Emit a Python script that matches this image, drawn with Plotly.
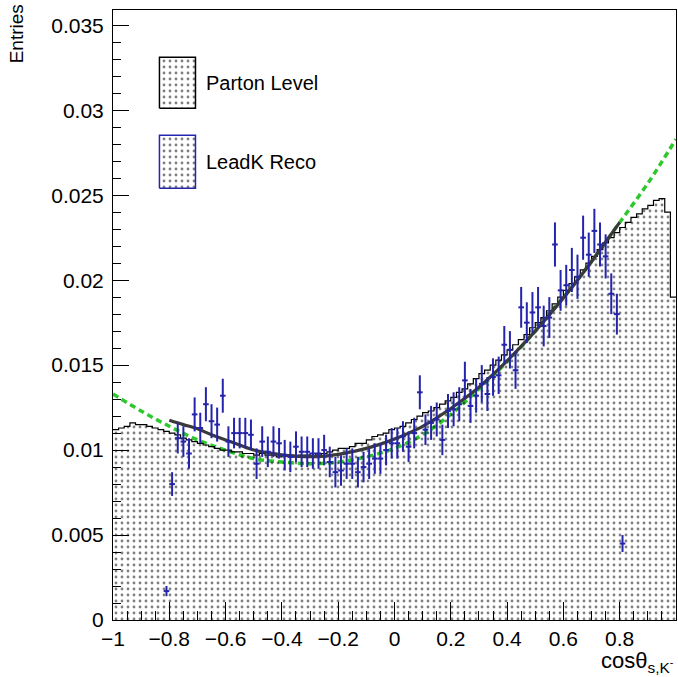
import plotly.graph_objects as go

# ---------------- data ----------------
X_MIN, X_MAX, N_BINS = -1.0, 1.0, 100

parton_vals = [
    0.0112, 0.0113, 0.0114, 0.0116, 0.0115, 0.0115, 0.0114, 0.0113, 0.0112, 0.0111,
    0.0110, 0.0109, 0.0107, 0.0106, 0.0105, 0.0104, 0.0103, 0.0102, 0.0101, 0.0100,
    0.0100, 0.0099, 0.0099, 0.0098, 0.0098, 0.0097, 0.0098, 0.0097, 0.0097, 0.0096,
    0.0097, 0.0097, 0.0096, 0.0097, 0.0097, 0.0098, 0.0097, 0.0098, 0.0099, 0.0100,
    0.0101, 0.0101, 0.0102, 0.0104, 0.0104, 0.0106, 0.0108, 0.0109, 0.0110, 0.0112,
    0.0113, 0.0114, 0.0116, 0.0118, 0.0120, 0.0122, 0.0123, 0.0125, 0.0127, 0.0129,
    0.0131, 0.0134, 0.0136, 0.0139, 0.0142, 0.0145, 0.0147, 0.0150, 0.0153, 0.0156,
    0.0159, 0.0162, 0.0165, 0.0168, 0.0172, 0.0175, 0.0178, 0.0182, 0.0186, 0.0190,
    0.0194, 0.0198, 0.0202, 0.0206, 0.0210, 0.0214, 0.0218, 0.0222, 0.0225, 0.0228,
    0.0231, 0.0234, 0.0237, 0.0239, 0.0242, 0.0244, 0.0247, 0.0248, 0.0240, 0.0190,
]

RECO_FIRST_CENTER = -0.81
reco_vals = [
    0.0017, 0.0080, 0.0107, 0.0105, 0.0098, 0.0121, 0.0113, 0.0127, 0.0117, 0.0115,
    0.0132, 0.0105, 0.0110, 0.0110, 0.0110, 0.0109, 0.0092, 0.0105, 0.0099, 0.0105,
    0.0104, 0.0097, 0.0096, 0.0102, 0.0099, 0.0099, 0.0098, 0.0098, 0.0100, 0.0093,
    0.0087, 0.0088, 0.0092, 0.0092, 0.0087, 0.0090, 0.0092, 0.0095, 0.0095, 0.0100,
    0.0104, 0.0104, 0.0108, 0.0102, 0.0110, 0.0134, 0.0112, 0.0116, 0.0118, 0.0106,
    0.0123, 0.0124, 0.0127, 0.0141, 0.0126, 0.0132, 0.0139, 0.0133, 0.0143, 0.0144,
    0.0162, 0.0159, 0.0147, 0.0184, 0.0175, 0.0181, 0.0184, 0.0173, 0.0178, 0.0221,
    0.0194, 0.0197, 0.0206, 0.0202, 0.0225, 0.0215, 0.0229, 0.0221, 0.0214, 0.0192,
    0.0180, 0.0045,
]
reco_errs = [
    0.0003, 0.0007, 0.0009, 0.0009, 0.0009, 0.0010, 0.0009, 0.0010, 0.0010, 0.0010,
    0.0010, 0.0009, 0.0009, 0.0009, 0.0009, 0.0009, 0.0009, 0.0009, 0.0009, 0.0009,
    0.0009, 0.0009, 0.0009, 0.0009, 0.0009, 0.0009, 0.0009, 0.0009, 0.0009, 0.0009,
    0.0009, 0.0009, 0.0009, 0.0009, 0.0009, 0.0009, 0.0009, 0.0009, 0.0009, 0.0009,
    0.0009, 0.0009, 0.0009, 0.0009, 0.0009, 0.0010, 0.0009, 0.0010, 0.0010, 0.0009,
    0.0010, 0.0010, 0.0010, 0.0011, 0.0010, 0.0010, 0.0011, 0.0010, 0.0011, 0.0011,
    0.0011, 0.0011, 0.0011, 0.0012, 0.0012, 0.0012, 0.0012, 0.0012, 0.0012, 0.0013,
    0.0012, 0.0012, 0.0013, 0.0013, 0.0013, 0.0013, 0.0013, 0.0013, 0.0013, 0.0012,
    0.0012, 0.0005,
]

fit_x = [-0.80, -0.75, -0.70, -0.65, -0.60, -0.55, -0.50, -0.45, -0.40, -0.35, -0.30,
         -0.25, -0.20, -0.15, -0.10, -0.05, 0.00, 0.05, 0.10, 0.15, 0.20, 0.25, 0.30,
         0.35, 0.40, 0.45, 0.50, 0.55, 0.60, 0.65, 0.70, 0.75, 0.80]
fit_y = [0.01176, 0.01150, 0.01125, 0.01090, 0.01060, 0.01030, 0.01000, 0.00985,
         0.00972, 0.00965, 0.00962, 0.00965, 0.00975, 0.00990, 0.01010, 0.01035,
         0.01065, 0.01100, 0.01140, 0.01190, 0.01245, 0.01305, 0.01370, 0.01445,
         0.01525, 0.01610, 0.01700, 0.01795, 0.01895, 0.02000, 0.02110, 0.02225, 0.02340]

theory_x = [-1.0, -0.9, -0.8, -0.7, -0.6, -0.5, -0.4, -0.3, -0.2, -0.1, 0.0,
            0.1, 0.2, 0.3, 0.4, 0.5, 0.6, 0.7, 0.8, 0.9, 1.0]
theory_y = [0.0133, 0.0123, 0.0114, 0.0106, 0.0100, 0.0095, 0.0093, 0.0092, 0.0093,
            0.0096, 0.0101, 0.0109, 0.0121, 0.0136, 0.0152, 0.0170, 0.0190, 0.0211,
            0.0234, 0.0257, 0.0283]

legend_labels = ["Parton Level", "LeadK Reco"]
y_ticks = [0, 0.005, 0.01, 0.015, 0.02, 0.025, 0.03, 0.035]
y_tick_text = ["0", "0.005", "0.01", "0.015", "0.02", "0.025", "0.03", "0.035"]

# ---------------- derived ----------------
bw = (X_MAX - X_MIN) / N_BINS
edges = [X_MIN + i * bw for i in range(N_BINS + 1)]
step_y = parton_vals + [parton_vals[-1]]
reco_x = [RECO_FIRST_CENTER + i * bw for i in range(len(reco_vals))]

FONT = "Liberation Sans, Arial, Helvetica, sans-serif"
BLUE = "#2424ac"
GREEN = "#2ec82e"
DOTS = dict(shape=".", size=6, solidity=0.17, fgcolor="black", bgcolor="rgba(0,0,0,0)")

fig = go.Figure()

# theory curve (green dashed)
fig.add_trace(go.Scatter(x=theory_x, y=theory_y, mode="lines", line_shape="spline",
                         line=dict(color=GREEN, width=3.5, dash="6px,4px"),
                         showlegend=False, hoverinfo="skip"))

# parton-level histogram
fig.add_trace(go.Scatter(x=edges, y=step_y, mode="lines", line_shape="hv",
                         line=dict(color="black", width=1.2), fill="tozeroy",
                         fillpattern=DOTS, showlegend=False))

# fit line (dark grey)
fig.add_trace(go.Scatter(x=fit_x, y=fit_y, mode="lines", line_shape="spline",
                         line=dict(color="#3a3a3a", width=3.2),
                         showlegend=False, hoverinfo="skip"))

# reco points
fig.add_trace(go.Scatter(x=reco_x, y=reco_vals, mode="markers",
                         marker=dict(size=2, color=BLUE),
                         error_y=dict(type="data", array=reco_errs, color=BLUE,
                                      thickness=2, width=0),
                         error_x=dict(type="constant", value=bw / 2, color=BLUE,
                                      thickness=2, width=0),
                         showlegend=False))

# in-plot legend
leg_boxes = [
    dict(x0=-0.835, x1=-0.707, y0=0.03012, y1=0.03312, color="black"),
    dict(x0=-0.835, x1=-0.707, y0=0.02541, y1=0.02853, color=BLUE),
]
for b, lab in zip(leg_boxes, legend_labels):
    fig.add_trace(go.Scatter(
        x=[b["x0"], b["x1"], b["x1"], b["x0"], b["x0"]],
        y=[b["y0"], b["y0"], b["y1"], b["y1"], b["y0"]],
        mode="lines", line=dict(color=b["color"], width=1.5), fill="toself",
        fillpattern=DOTS, showlegend=False, hoverinfo="skip"))
    fig.add_annotation(x=-0.675, y=(b["y0"] + b["y1"]) / 2, xref="x", yref="y",
                       text=lab, showarrow=False, xanchor="left", yanchor="middle",
                       font=dict(family=FONT, size=20, color="black"))

# axis titles
fig.add_annotation(xref="paper", yref="paper", x=-0.172, y=1.012, text="Entries",
                   textangle=-90, showarrow=False, xanchor="center", yanchor="top",
                   font=dict(family=FONT, size=19, color="black"))
fig.add_annotation(xref="paper", yref="paper", x=1.0, y=-0.042,
                   text="cosθ<sub>s,K<sup>-</sup></sub>", showarrow=False,
                   xanchor="right", yanchor="top",
                   font=dict(family=FONT, size=22, color="black"))

fig.update_layout(
    width=678, height=677,
    margin=dict(l=113, r=2, t=10, b=57),
    paper_bgcolor="white", plot_bgcolor="white",
    font=dict(family=FONT, size=20, color="black"),
    showlegend=False,
)
fig.update_xaxes(range=[X_MIN, X_MAX], dtick=0.2, tick0=-1, ticks="inside", ticklen=18,
                 tickwidth=1, tickcolor="black", showgrid=False, zeroline=False,
                 showline=True, linecolor="black", linewidth=1, mirror=True,
                 tickfont=dict(family=FONT, size=21),
                 minor=dict(dtick=0.05, ticks="inside", ticklen=9, tickcolor="black",
                            showgrid=False))
fig.update_yaxes(range=[0, 0.0359], tickvals=y_ticks, ticktext=y_tick_text,
                 ticks="inside", ticklen=16, tickwidth=1, tickcolor="black",
                 showgrid=False, zeroline=False, showline=True, linecolor="black",
                 linewidth=1, mirror=True, tickfont=dict(family=FONT, size=21),
                 ticklabelstandoff=4,
                 minor=dict(dtick=0.001, ticks="inside", ticklen=8, tickcolor="black",
                            showgrid=False))

fig.write_html("out.html")
